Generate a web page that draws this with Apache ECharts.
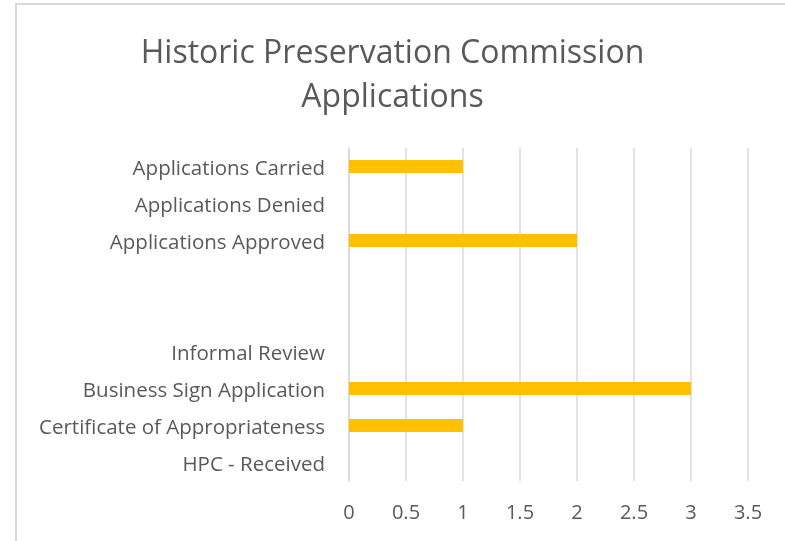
<!DOCTYPE html>
<html>
<head>
<meta charset="utf-8">
<script src="https://cdn.jsdelivr.net/npm/echarts@6/dist/echarts.min.js"></script>
<style>
	html, body { margin: 0; padding: 0; background: #fff; }
	#frame { position: absolute; left: 15px; top: 3px; width: 770px; height: 538px; border-top: 2px solid #d9d9d9; border-left: 2px solid #d9d9d9; }
	#chart { position: absolute; left: 0; top: 0; width: 785px; height: 541px; }
</style>
</head>
<body>
<div id="frame"></div>
<div id="chart"></div>
<script>
// 类目(从下到上)，两个空白行用不同空格区分
var categories = ['HPC - Received', 'Certificate of Appropriateness', 'Business Sign Application', 'Informal Review', ' ', '  ', 'Applications Approved', 'Applications Denied', 'Applications Carried'];
var counts = [0, 1, 3, 0, null, null, 2, 0, 1];
var xTicks = [0, 0.5, 1, 1.5, 2, 2.5, 3, 3.5];

var myChart = echarts.init(document.getElementById('chart'));
var options = {
	animation: false,
	title: {
		text: 'Historic Preservation Commission\nApplications',
		left: 'center',
		top: 27,
		textStyle: {
			fontFamily: 'Open Sans',
			fontSize: 32,
			fontWeight: 'normal',
			color: '#595959',
			lineHeight: 44
		}
	},
	grid: {
		left: 349,
		right: 37,
		top: 148,
		bottom: 60
	},
	xAxis: {
		type: 'value',
		min: xTicks[0],
		max: xTicks[xTicks.length - 1],
		interval: 0.5,
		axisLine: { show: false },
		axisTick: { show: false },
		axisLabel: {
			margin: 22,
			fontFamily: 'Open Sans',
			fontSize: 20,
			color: '#595959'
		},
		splitLine: { lineStyle: { color: '#d9d9d9', width: 1.5 } }
	},
	yAxis: {
		type: 'category',
		data: categories,
		axisLine: { lineStyle: { color: '#d9d9d9', width: 1.5 } },
		axisTick: { show: false },
		axisLabel: {
			margin: 24,
			fontFamily: 'Open Sans',
			fontSize: 20.5,
			color: '#595959',
			formatter: function(v) {
				return '{c|' + v + '}';
			},
			rich: {
				c: {
					fontFamily: 'Open Sans',
					fontSize: 20.5,
					color: '#595959',
					padding: [5, 0, 0, 0]
				}
			}
		}
	},
	series: [{
		type: 'bar',
		data: counts,
		barWidth: 13,
		itemStyle: { color: '#FFC000' }
	}]
};
myChart.setOption(options);
</script>
</body>
</html>
